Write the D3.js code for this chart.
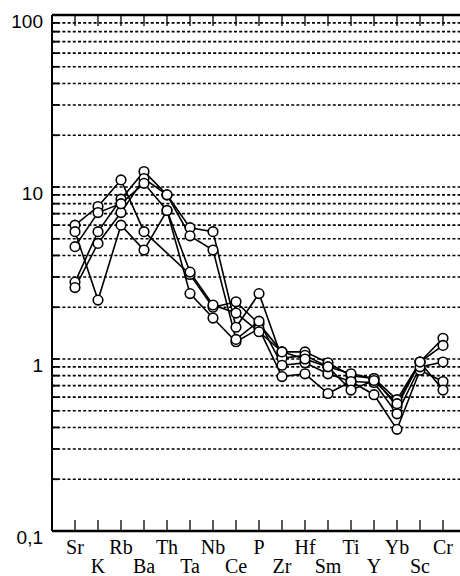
<!DOCTYPE html>
<html lang="en">
<head>
<meta charset="utf-8">
<title>Spider diagram</title>
<script src="https://cdn.jsdelivr.net/npm/d3@7"></script>
<style>
  body { margin: 0; background: #fff; }
  svg { display: block; }
  .ylab { font-family: "Liberation Sans", Arial, sans-serif; font-size: 19px; }
  .xlab { font-family: "Liberation Serif", "Times New Roman", serif; font-size: 20px; }
</style>
</head>
<body>
<div id="chart"></div>
<script>
// element order along the x axis
const elements = ["Sr", "K", "Rb", "Ba", "Th", "Ta", "Nb", "Ce", "P", "Zr", "Hf", "Sm", "Ti", "Y", "Yb", "Sc", "Cr"];

// normalised values per sample (null = not plotted)
const s1 = [6.0, 7.7, 11.0, 5.5, null, 3.1, 2.0, 2.15, 1.6, 1.1, 1.1, 0.95, 0.8, 0.77, 0.58, 0.96, 1.32];
const s2 = [5.5, 2.2, 6.0, 4.3, 7.3, 2.4, 1.73, 1.26, 1.5, 0.79, 0.82, 0.63, 0.74, 0.62, 0.39, 0.86, 0.74];
const s3 = [2.8, 5.5, 8.5, 12.3, 9.0, 5.8, 5.5, 1.53, 2.4, 1.01, 1.05, 0.9, 0.82, 0.77, 0.53, 0.96, 1.2];
const s4 = [2.6, 4.7, 7.1, 11.2, 9.0, 5.2, 4.3, 1.3, 1.66, 0.92, 0.95, 0.82, 0.74, 0.73, 0.48, 0.9, 0.96];
const s5 = [4.5, 7.1, 8.0, 10.5, 7.3, 3.2, 2.06, 1.85, 1.44, 1.1, 1.0, 0.9, 0.66, 0.75, 0.55, 0.96, 0.66];
const samples = [s1, s2, s3, s4, s5];

// y axis labels
const yLabelValues = [100, 10, 1, 0.1];
const yLabelText = ["100", "10", "1", "0,1"];

const width = 460, height = 576;
const plotLeft = 52, plotRight = 466, plotTop = 15, plotBottom = 531;

const svg = d3.select("#chart").append("svg")
    .attr("width", width)
    .attr("height", height);

const x = d3.scalePoint().domain(elements).range([75, 443]);
const y = d3.scaleLog().domain([0.1, 100]).range([plotBottom, plotTop]);

// dotted grid lines for every minor step of each decade
const grid = y.ticks().filter(v => v > 0.1 && v < 100);
svg.selectAll(".grid")
    .data(grid)
    .enter()
    .append("line")
    .attr("x1", plotLeft)
    .attr("x2", plotRight)
    .attr("y1", d => y(d))
    .attr("y2", d => y(d))
    .style("stroke", "#000")
    .style("stroke-width", 1.6)
    .style("stroke-dasharray", "3,2.2");

// short solid ticks on the left axis
svg.selectAll(".ytick")
    .data(grid)
    .enter()
    .append("line")
    .attr("x1", plotLeft)
    .attr("x2", plotLeft + 7)
    .attr("y1", d => y(d))
    .attr("y2", d => y(d))
    .style("stroke", "#000")
    .style("stroke-width", 1.8);

// frame
svg.append("line").attr("x1", plotLeft).attr("x2", plotLeft).attr("y1", plotTop).attr("y2", plotBottom)
    .style("stroke", "#000").style("stroke-width", 2);
svg.append("line").attr("x1", plotLeft).attr("x2", plotRight).attr("y1", plotTop).attr("y2", plotTop)
    .style("stroke", "#000").style("stroke-width", 2.5);
svg.append("line").attr("x1", plotLeft).attr("x2", plotRight).attr("y1", plotBottom).attr("y2", plotBottom)
    .style("stroke", "#000").style("stroke-width", 2.5);

// category ticks top and bottom
svg.selectAll(".ttick")
    .data(elements)
    .enter()
    .append("line")
    .attr("x1", d => x(d)).attr("x2", d => x(d))
    .attr("y1", plotTop).attr("y2", plotTop + 11)
    .style("stroke", "#000").style("stroke-width", 1.3);
svg.selectAll(".btick")
    .data(elements)
    .enter()
    .append("line")
    .attr("x1", d => x(d)).attr("x2", d => x(d))
    .attr("y1", plotBottom).attr("y2", plotBottom - 11)
    .style("stroke", "#000").style("stroke-width", 1.3);

// y labels
svg.selectAll(".ylab")
    .data(yLabelValues)
    .enter()
    .append("text")
    .attr("class", "ylab")
    .attr("x", 43)
    .attr("y", d => y(d) + 13)
    .attr("text-anchor", "end")
    .text((d, i) => yLabelText[i]);

// x labels, staggered in two rows
svg.selectAll(".xlab")
    .data(elements)
    .enter()
    .append("text")
    .attr("class", "xlab")
    .attr("x", d => x(d))
    .attr("y", (d, i) => i % 2 === 0 ? 554 : 573)
    .attr("text-anchor", "middle")
    .text(d => d);

// sample lines
const line = d3.line()
    .x(d => x(d.el))
    .y(d => y(d.v));

samples.forEach(s => {
    const pts = s.map((v, i) => ({el: elements[i], v: v})).filter(d => d.v != null);
    svg.append("path")
        .datum(pts)
        .attr("d", line)
        .style("fill", "none")
        .style("stroke", "#000")
        .style("stroke-width", 1.6);
});

// sample markers
samples.forEach(s => {
    const pts = s.map((v, i) => ({el: elements[i], v: v})).filter(d => d.v != null);
    svg.selectAll(null)
        .data(pts)
        .enter()
        .append("circle")
        .attr("cx", d => x(d.el))
        .attr("cy", d => y(d.v))
        .attr("r", 4.8)
        .style("fill", "#fff")
        .style("stroke", "#000")
        .style("stroke-width", 1.6);
});
</script>
</body>
</html>
